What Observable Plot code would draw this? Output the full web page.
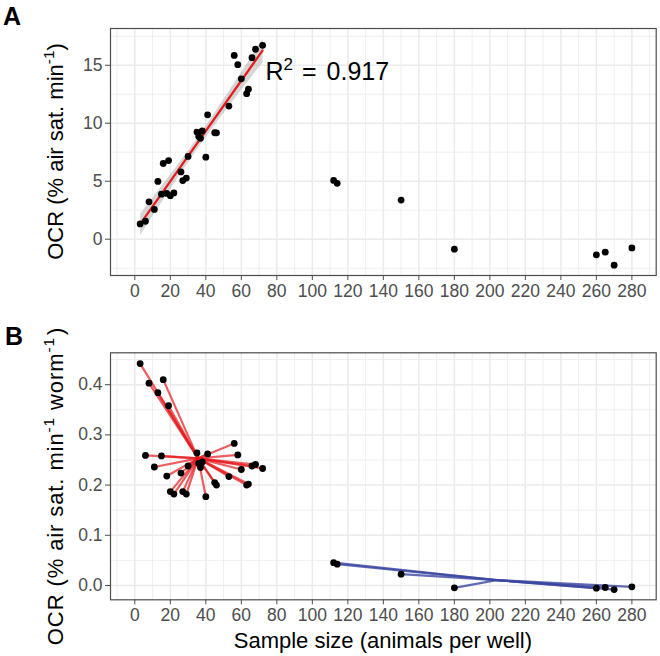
<!DOCTYPE html>
<html>
<head>
<meta charset="utf-8">
<script src="https://cdn.jsdelivr.net/npm/d3@7"></script>
<script src="https://cdn.jsdelivr.net/npm/@observablehq/plot@0.6"></script>
<style>
  html, body { margin: 0; padding: 0; background: #fff; }
  #chart svg { display: block; }
</style>
</head>
<body>
<div id="chart"></div>
<script>
// Sample size (animals per well) for each well
const animals = [3, 6, 8, 11, 13, 15, 16, 18, 19, 20, 22, 26, 27, 29, 30, 35, 36, 37, 38, 40,
                 41, 45, 46, 53, 56, 58, 60, 63, 64, 66, 68, 72, 112, 114, 150, 180, 260, 265, 270, 280];
// Oxygen consumption rate per well (% air sat. min^-1)
const ocrWell = [1.32, 1.55, 3.22, 2.57, 4.98, 3.88, 6.53, 3.95, 6.78, 3.75, 3.99, 5.80, 5.06, 5.27, 7.14,
                 9.24, 8.85, 8.70, 9.33, 7.07, 10.73, 9.18, 9.17, 11.48, 15.85, 15.05, 13.83, 12.55, 12.93,
                 15.65, 16.38, 16.72, 5.07, 4.82, 3.37, -0.86, -1.35, -1.12, -2.24, -0.75];
// Oxygen consumption rate per worm (% air sat. min^-1 worm^-1)
const ocrWorm = [0.442, 0.259, 0.403, 0.236, 0.384, 0.258, 0.410, 0.218, 0.358, 0.187, 0.182, 0.224, 0.187,
                 0.182, 0.238, 0.264, 0.243, 0.235, 0.246, 0.177, 0.262, 0.205, 0.200, 0.217, 0.283, 0.260,
                 0.231, 0.200, 0.202, 0.238, 0.241, 0.233, 0.0455, 0.0425, 0.0226, -0.0047, -0.0053, -0.0040,
                 -0.0082, -0.0027];
// Density class of each well
const density = [...Array(32).fill("low"), ...Array(8).fill("high")];

const xTicks = [0, 20, 40, 60, 80, 100, 120, 140, 160, 180, 200, 220, 240, 260, 280];
const xMinor = [-10, 10, 30, 50, 70, 90, 110, 130, 150, 170, 190, 210, 230, 250, 270, 290];
const yTicksA = [0, 5, 10, 15];
const yMinorA = [-2.5, 2.5, 7.5, 12.5, 17.5];
const yTicksB = [0, 0.1, 0.2, 0.3, 0.4];
const yMinorB = [0.05, 0.15, 0.25, 0.35, 0.45];
const r2Value = "0.917";
const r2Pos = {x: 73.6, y: 14.4};

const rows = animals.map((n, i) => ({n, well: ocrWell[i], worm: ocrWorm[i], density: density[i]}));
const low = rows.filter(d => d.density === "low");
const high = rows.filter(d => d.density === "high");

const FONT = "'Liberation Sans', Arial, Helvetica, sans-serif";
const GRID = "#ebebeb";
const xDomain = [-13.7, 293.7];

function grid(xMaj, xMin, yMaj, yMin) {
  return [
    Plot.ruleX(xMin, {stroke: GRID, strokeWidth: 0.8}),
    Plot.ruleY(yMin, {stroke: GRID, strokeWidth: 0.8}),
    Plot.ruleX(xMaj, {stroke: GRID, strokeWidth: 1.5}),
    Plot.ruleY(yMaj, {stroke: GRID, strokeWidth: 1.5})
  ];
}

// Writes a text run made of [text, isSuperscript, dx] parts into a <text> node
function richText(t, parts, supSize, rise) {
  let prevSup = false;
  for (const [txt, sup, dx] of parts) {
    const s = t.append("tspan").text(txt);
    if (sup) s.attr("font-size", supSize).attr("dy", -rise);
    else if (prevSup) s.attr("dy", rise);
    if (dx) s.attr("dx", dx);
    prevSup = sup;
  }
}

function yTitle(svg, parts, cx, cy, spacing = 0) {
  const t = d3.select(svg).append("text")
    .attr("transform", `translate(${cx},${cy}) rotate(-90)`)
    .attr("text-anchor", "middle")
    .attr("font-family", FONT)
    .attr("font-size", 22)
    .attr("letter-spacing", spacing)
    .attr("fill", "black");
  richText(t, parts, 15.4, 9);
}

function panelLabel(svg, label, x, y) {
  d3.select(svg).append("text")
    .attr("x", x).attr("y", y)
    .attr("text-anchor", "start")
    .attr("font-family", FONT)
    .attr("font-size", 25)
    .attr("font-weight", "bold")
    .attr("fill", "black")
    .text(label);
}

const common = {
  width: 660,
  marginLeft: 110,
  marginRight: 4.3,
  style: {fontFamily: FONT, fontSize: "17.5px", color: "#4d4d4d", background: "white", overflow: "visible"}
};

// Panel A: OCR per well with linear fit over the low-density wells
const plotA = Plot.plot({
  ...common,
  height: 325,
  marginTop: 28,
  marginBottom: 50,
  x: {domain: xDomain, ticks: xTicks, tickSize: 5, tickPadding: 4, label: null},
  y: {domain: [-3.13, 18.17], ticks: yTicksA, tickSize: 5, tickPadding: 3, label: null},
  marks: [
    ...grid(xTicks, xMinor, yTicksA, yMinorA),
    Plot.linearRegressionY(low, {x: "n", y: "well", stroke: "#e41a1c", strokeWidth: 2.2, fill: "#999999", fillOpacity: 0.4}),
    Plot.dot(rows, {x: "n", y: "well", r: 3.4, fill: "black", stroke: "none"}),
    Plot.text([`R2 = ${r2Value}`], {x: r2Pos.x, y: r2Pos.y, text: d => d, textAnchor: "start", lineAnchor: "middle", fontSize: 25, fill: "black", className: "r2-label"}),
    Plot.frame({stroke: "#4d4d4d", strokeWidth: 1.2})
  ]
});

// Superscript the exponent in the R² annotation
d3.select(plotA).selectAll(".r2-label text").each(function() {
  const t = d3.select(this);
  t.text(null);
  richText(t, [["R", false], ["2", true], ["=", false, 9], [r2Value, false, 10]], 17, 10);
});

// Panel B: OCR per worm, each well linked to its density-class centroid
const centroid = g => ({cx: d3.mean(g, d => d.n), cy: d3.mean(g, d => d.worm)});
const cLow = centroid(low), cHigh = centroid(high);
const linksLow = low.map(d => ({...d, ...cLow}));
const linksHigh = high.map(d => ({...d, ...cHigh}));

const plotB = Plot.plot({
  ...common,
  height: 331,
  marginTop: 27.3,
  marginBottom: 56.7,
  x: {domain: xDomain, ticks: xTicks, tickSize: 5, tickPadding: 4, label: null},
  y: {domain: [-0.0285, 0.4635], ticks: yTicksB, tickFormat: d3.format(".1f"), tickSize: 5, tickPadding: 3, label: null},
  marks: [
    ...grid(xTicks, xMinor, yTicksB, yMinorB),
    Plot.link(linksLow, {x1: "n", y1: "worm", x2: "cx", y2: "cy", stroke: "#e41a1c", strokeOpacity: 0.7, strokeWidth: 2.2}),
    Plot.link(linksHigh, {x1: "n", y1: "worm", x2: "cx", y2: "cy", stroke: "#3b47a0", strokeOpacity: 0.8, strokeWidth: 2.2}),
    Plot.dot(rows, {x: "n", y: "worm", r: 3.4, fill: "black", stroke: "none"}),
    Plot.frame({stroke: "#4d4d4d", strokeWidth: 1.2})
  ]
});

yTitle(plotA, [["OCR (% air sat. min", false], ["-1", true], [")", false]], 62.5, 151.5);
yTitle(plotB, [["OCR (% air sat. min", false], ["-1", true], ["worm", false, 7], ["-1", true], [")", false, 2]], 62.5, 161, 0.9);
panelLabel(plotA, "A", 3, 25);
panelLabel(plotB, "B", 5, 20);

d3.select(plotB).append("text")
  .attr("x", 382.9).attr("y", 323)
  .attr("text-anchor", "middle")
  .attr("font-family", FONT)
  .attr("font-size", 22)
  .attr("fill", "black")
  .text("Sample size (animals per well)");

const chart = document.getElementById("chart");
chart.appendChild(plotA);
chart.appendChild(plotB);
</script>
</body>
</html>
